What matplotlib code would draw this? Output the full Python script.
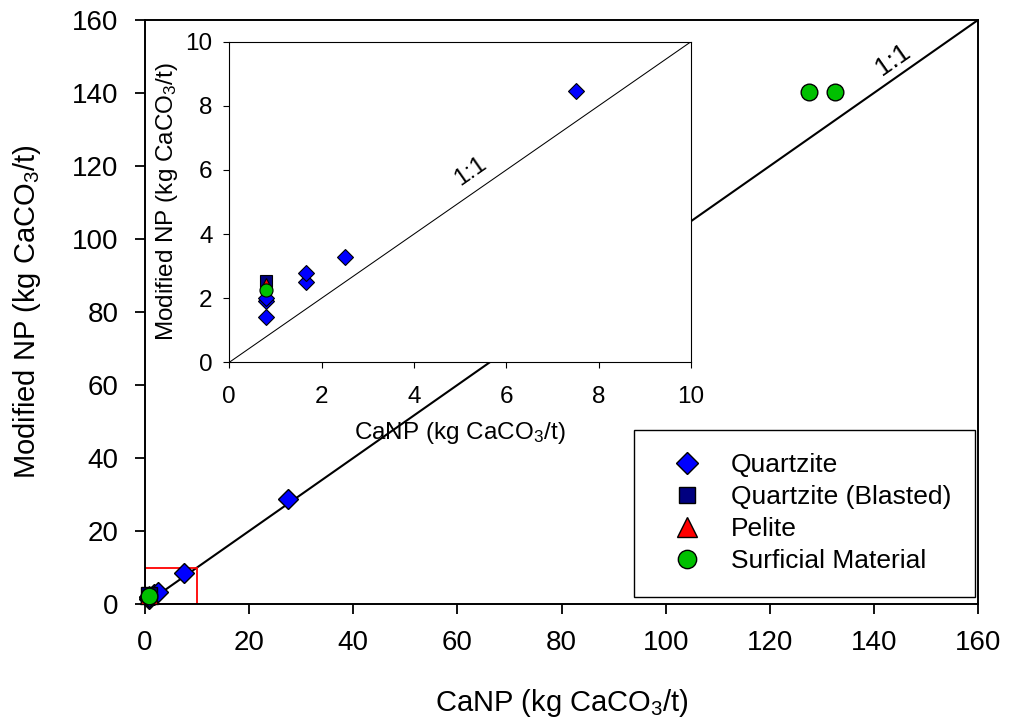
import matplotlib
matplotlib.use("Agg")
import matplotlib.pyplot as plt
from matplotlib.patches import Rectangle

plt.rcParams['font.family'] = ['Liberation Sans', 'DejaVu Sans']
plt.rcParams['mathtext.fontset'] = 'custom'
plt.rcParams['mathtext.rm'] = 'Liberation Sans'
plt.rcParams['mathtext.it'] = 'Liberation Sans'

# CaNP vs modified NP, kg CaCO3/t
quartzite_x = [0.8, 0.8, 0.8, 1.66, 1.66, 2.5, 7.5, 27.5]
quartzite_y = [1.4, 1.9, 2.0, 2.5, 2.8, 3.3, 8.45, 28.8]
blasted_x = [0.8]
blasted_y = [2.55]
pelite_x = [0.8]
pelite_y = [2.45]
surficial_x = [0.8, 127.5, 132.5]
surficial_y = [2.25, 140.4, 140.4]

main_ticks = [0, 20, 40, 60, 80, 100, 120, 140, 160]
inset_ticks = [0, 2, 4, 6, 8, 10]

axis_label_x = r'CaNP (kg CaCO$_3$/t)'
axis_label_y = r'Modified NP (kg CaCO$_3$/t)'

W, H = 1009, 721
fig = plt.figure(figsize=(W / 100, H / 100), dpi=100)

def frac(l, r, t, b):
    return [l / W, 1 - b / H, (r - l) / W, (b - t) / H]

# main plot
ax = fig.add_axes(frac(145, 978, 20, 604))
ax.plot([0, 160], [0, 160], color='black', lw=1.5, zorder=1)
ax.add_patch(Rectangle((0, 0), 10, 10, fill=False, edgecolor='red', lw=1.3, zorder=2))

ax.plot(quartzite_x, quartzite_y, 'D', ms=10.2, mfc='#0000ff', mec='black', mew=1,
        label='Quartzite', clip_on=False, zorder=3)
ax.plot(blasted_x, blasted_y, 's', ms=11, mfc='#000080', mec='black', mew=1,
        label='Quartzite (Blasted)', clip_on=False, zorder=3)
ax.plot(pelite_x, pelite_y, '^', ms=13, mfc='#ff0000', mec='black', mew=1,
        label='Pelite', clip_on=False, zorder=3)
ax.plot(surficial_x, surficial_y, 'o', ms=12, mfc='#00c000', mec='black', mew=1,
        label='Surficial Material', clip_on=False, zorder=3)

ax.set_xlim(0, 160)
ax.set_ylim(0, 160)
ax.set_xticks(main_ticks)
ax.set_yticks(main_ticks)
ax.tick_params(direction='out', length=7, width=1.3, labelsize=20, pad=12)
for s in ax.spines.values():
    s.set_linewidth(1.4)
ax.set_xlabel(axis_label_x, fontsize=21, labelpad=22)
ax.set_ylabel(axis_label_y, fontsize=21, labelpad=21)
ax.text(143.6, 149, '1:1', fontsize=19, rotation=35, ha='center', va='center')

leg = ax.legend(loc='lower right', bbox_to_anchor=(0.9964, 0.012), borderaxespad=0,
                fontsize=19, markerscale=1.1, fancybox=False, frameon=True,
                edgecolor='black', framealpha=1, borderpad=0.9, labelspacing=0.3,
                handlelength=2.2, handletextpad=0.57)
leg.get_frame().set_linewidth(1.0)

# zoomed view of the 0-10 range
ins = fig.add_axes(frac(229.3, 691, 41.7, 362.3))
ins.plot([0, 10], [0, 10], color='black', lw=0.75, zorder=1)
ins.plot(quartzite_x, quartzite_y, 'D', ms=8, mfc='#0000ff', mec='black', mew=0.8, zorder=3)
ins.plot(blasted_x, blasted_y, 's', ms=8.5, mfc='#000080', mec='black', mew=0.8, zorder=3)
ins.plot(pelite_x, pelite_y, '^', ms=9, mfc='#ff0000', mec='black', mew=0.8, zorder=3)
ins.plot(surficial_x, surficial_y, 'o', ms=9.4, mfc='#00c000', mec='black', mew=0.8, zorder=4)
ins.set_xlim(0, 10)
ins.set_ylim(0, 10)
ins.set_xticks(inset_ticks)
ins.set_yticks(inset_ticks)
ins.tick_params(direction='out', length=4, width=0.8, labelsize=17.5)
ins.tick_params(axis='x', pad=13)
ins.tick_params(axis='y', pad=8)
for s in ins.spines.values():
    s.set_linewidth(0.8)
ins.set_xlabel(axis_label_x, fontsize=17.5, labelpad=9)
ins.set_ylabel(axis_label_y, fontsize=17.5, labelpad=4)
ins.text(5.22, 5.96, '1:1', fontsize=17.5, rotation=35, ha='center', va='center')

fig.savefig('out.png', dpi=100)
